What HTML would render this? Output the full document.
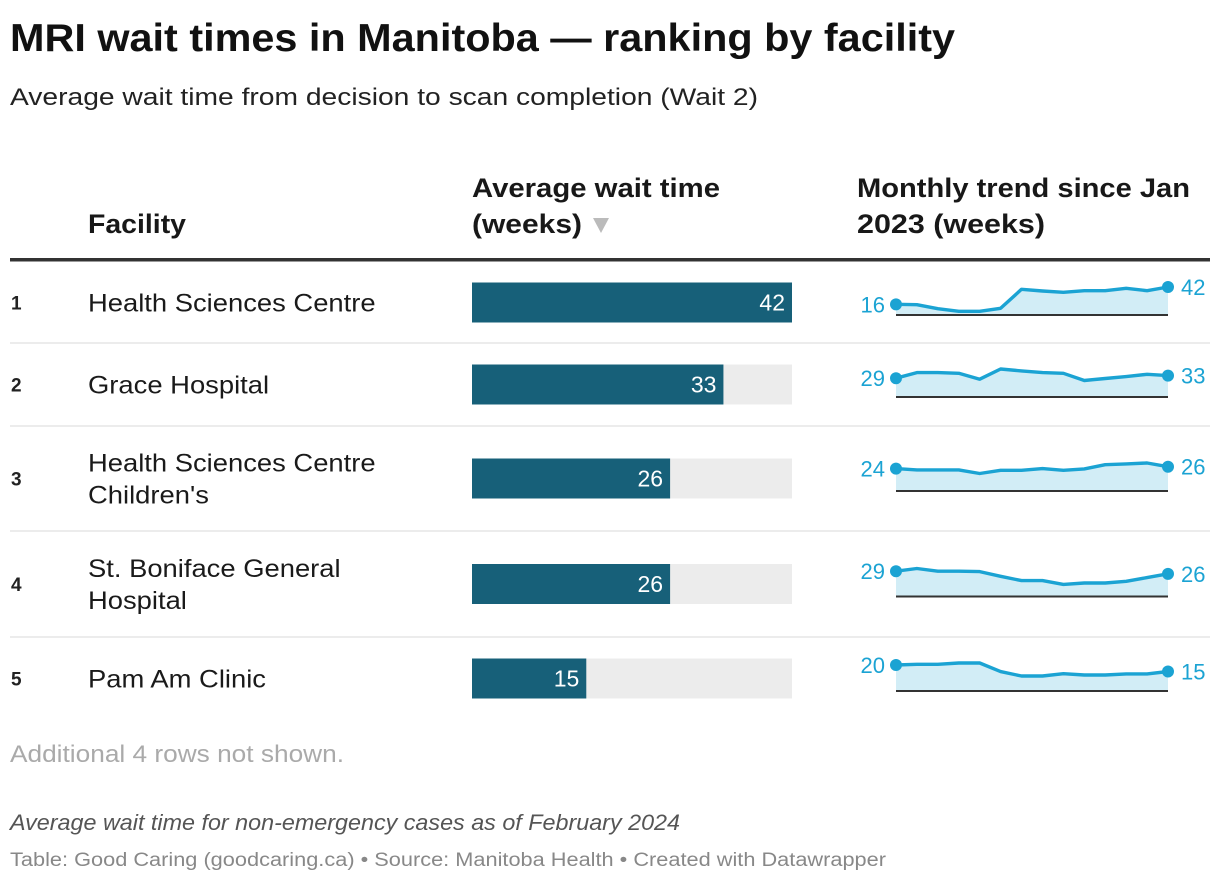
<!DOCTYPE html>
<html><head><meta charset="utf-8"><style>
body{margin:0;background:#fff;}
svg{display:block;font-family:"Liberation Sans",sans-serif;}
</style></head><body>
<svg id="chart" width="1220" height="882" viewBox="0 0 1220 882">
<text x="10" y="51" font-size="39" font-weight="bold" fill="#111" textLength="945" lengthAdjust="spacingAndGlyphs">MRI wait times in Manitoba — ranking by facility</text>
<text x="10" y="105" font-size="24" fill="#222" textLength="748" lengthAdjust="spacingAndGlyphs">Average wait time from decision to scan completion (Wait 2)</text>
<text x="88" y="233" font-size="27" font-weight="bold" fill="#181818" textLength="98" lengthAdjust="spacingAndGlyphs">Facility</text>
<text x="472" y="197" font-size="27" font-weight="bold" fill="#181818" textLength="248" lengthAdjust="spacingAndGlyphs">Average wait time</text>
<text x="472" y="233" font-size="27" font-weight="bold" fill="#181818" textLength="110" lengthAdjust="spacingAndGlyphs">(weeks)</text>
<path d="M593 218 L609 218 L601 233 Z" fill="#bbb"/>
<text x="857" y="197" font-size="27" font-weight="bold" fill="#181818" textLength="333" lengthAdjust="spacingAndGlyphs">Monthly trend since Jan</text>
<text x="857" y="233" font-size="27" font-weight="bold" fill="#181818" textLength="188" lengthAdjust="spacingAndGlyphs">2023 (weeks)</text>
<rect x="10" y="258" width="1200" height="3.5" fill="#333"/>
<g id="rows"></g>
<text x="10" y="762" font-size="24" fill="#aaa" textLength="334" lengthAdjust="spacingAndGlyphs">Additional 4 rows not shown.</text>
<text x="10" y="830" font-size="22" font-style="italic" fill="#555" textLength="670" lengthAdjust="spacingAndGlyphs">Average wait time for non-emergency cases as of February 2024</text>
<text x="10" y="866" font-size="19" fill="#888" textLength="876" lengthAdjust="spacingAndGlyphs">Table: Good Caring (goodcaring.ca) • Source: Manitoba Health • Created with Datawrapper</text>
</svg>
<script>
const facilities = ["Health Sciences Centre","Grace Hospital","Health Sciences Centre|Children's","St. Boniface General|Hospital","Pam Am Clinic"];
const waits = [42,33,26,26,15];
const trendHSC = [16,15.5,9.5,5.5,5.5,10,38.5,36,34,36.5,36.5,40,36.5,42];
const trendGrace = [29,37.7,37.7,36.6,27.5,43.2,40.2,37.7,36.6,25.4,28.5,31.5,35.1,33];
const trendHSCC = [24,22.6,22.6,22.6,18.7,22.2,22.2,24,22.2,23.7,28.2,29,30,26];
const trendStB = [29,32.1,29,29,28.6,23.2,18.2,18.2,13.9,15.5,15.5,17.4,21.7,26];
const trendPamAm = [20,20.5,20.5,21.5,21.5,14.9,11.5,11.5,13.3,12.3,12.3,13.1,13.1,15];
const trends = [trendHSC,trendGrace,trendHSCC,trendStB,trendPamAm];

const NS="http://www.w3.org/2000/svg";
const g=document.getElementById('rows');
function mk(tag,attrs,parent){const e=document.createElementNS(NS,tag);for(const k in attrs)e.setAttribute(k,attrs[k]);(parent||g).appendChild(e);return e;}
const rowTops=[262,343,426,531,637];
const rowBottoms=[343,426,531,637,720];
const barX=472, barW=320, barMax=42;
const xBar=v=>v/barMax*barW;
const sx0=896, sx1=1168;
rowTops.forEach((t,i)=>{
  const mid=(t+rowBottoms[i])/2;
  if(i>0){const l=mk('rect',{x:10,y:t-1,width:1200,height:2,fill:'#ececec'});
    
    }
  const r=mk('text',{x:11,y:mid+7,'font-size':19,'font-weight':'bold',fill:'#222'});r.textContent=String(i+1);
  
  
  const lines=facilities[i].split('|');
  lines.forEach((ln,j)=>{
    const y=mid+9+(j-(lines.length-1)/2)*32;
    const f=mk('text',{x:88,y:y,'font-size':25,fill:'#1a1a1a'});f.textContent=ln;
    
    
    const w=f.getComputedTextLength();
    f.setAttribute('textLength',(w*1.095).toFixed(1));
    f.setAttribute('lengthAdjust','spacingAndGlyphs');
  });
  const bg=mk('rect',{x:barX,y:mid-20,width:barW,height:40,fill:'#ececec'});
  
  
  const b=mk('rect',{x:barX,y:mid-20,width:xBar(waits[i]),height:40,fill:'#176079'});
  
  
  const bl=mk('text',{x:barX+xBar(waits[i])-7,y:mid+8,'font-size':23,fill:'#fff','text-anchor':'end'});bl.textContent=waits[i];
  
  
  const data=trends[i];
  const base=mid+12.5;
  const mx=Math.max(...data);
  const X=k=>sx0+k*(sx1-sx0)/(data.length-1);
  const Y=v=>base-v/mx*28;
  let d='';data.forEach((v,k)=>{d+=(k?'L':'M')+X(k).toFixed(1)+' '+Y(v).toFixed(1);});
  const area=mk('path',{d:d+`L${sx1} ${base}L${sx0} ${base}Z`,fill:'#d2edf6'});
  
  
  const bline=mk('rect',{x:sx0,y:base-1,width:sx1-sx0,height:2,fill:'#333'});
  
  
  const line=mk('path',{d:d,fill:'none',stroke:'#1ba3d3','stroke-width':3.4,'stroke-linejoin':'round'});
  
  
  [0,data.length-1].forEach((k,j)=>{
    const c=mk('circle',{cx:X(k),cy:Y(data[k]),r:6,fill:'#1ba3d3'});
    
    
    const tl=mk('text',{x:j?X(k)+13:X(k)-11,y:Y(data[k])+8,'font-size':22,fill:'#1ba3d3','text-anchor':j?'start':'end'});
    tl.textContent=Math.round(data[k]);
    
    
  });
});
</script>
</body></html>
